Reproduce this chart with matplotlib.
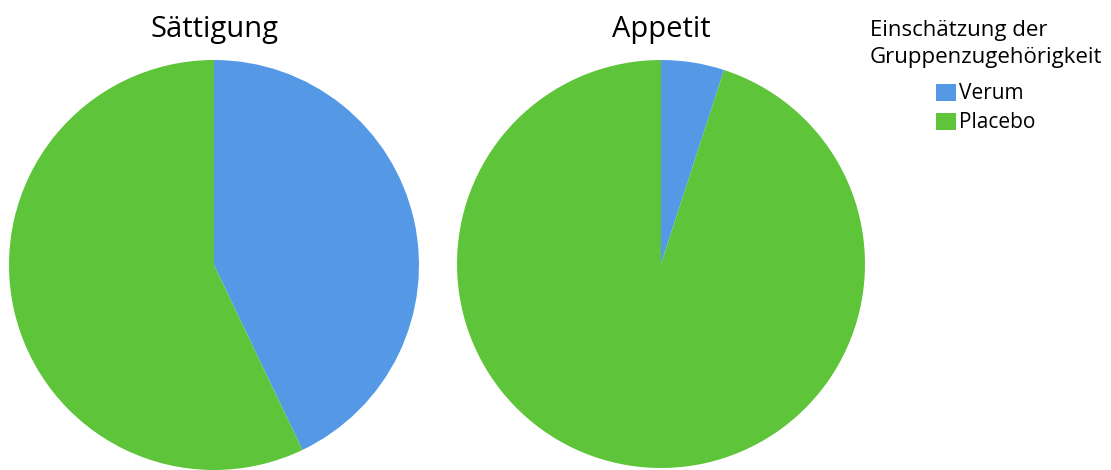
import matplotlib.pyplot as plt

# data (share of participants)
groups = ['Verum', 'Placebo']
titles = ['Sättigung', 'Appetit']
saettigung = [42.9, 57.1]
appetit = [5.0, 95.0]
colors = ['#5599e6', '#5ec43a']

plt.rcParams['font.family'] = ['Open Sans', 'DejaVu Sans']

W, H = 1111, 470
fig = plt.figure(figsize=(W / 100, H / 100), dpi=100)

# pie axes placed in pixel coordinates (left, top, size)
boxes = [(9, 60, 410), (457, 60, 408)]
for (left, top, size), title, values in zip(boxes, titles, [saettigung, appetit]):
    ax = fig.add_axes([left / W, (H - top - size) / H, size / W, size / H])
    wedges, _ = ax.pie(values, colors=colors, startangle=90, counterclock=False,
                       wedgeprops=dict(linewidth=0))
    ax.set_xlim(-1, 1)
    ax.set_ylim(-1, 1)
    ax.set_aspect('equal')
    ax.axis('off')
    fig.text((left + size / 2) / W, 1 - 30 / H, title, ha='center', va='center', fontsize=21)

leg = fig.legend(wedges, groups, title='Einschätzung der\nGruppenzugehörigkeit',
                 loc='upper center', bbox_to_anchor=(986 / W, 1 - 1 / H),
                 frameon=False, fontsize=15, title_fontsize=16,
                 handlelength=0.95, handleheight=0.9, handletextpad=0.15,
                 labelspacing=0.38)
leg.get_title().set_linespacing(1.4)
leg._legend_box.align = 'center'
leg._legend_box.sep = 11

fig.savefig('out.png', dpi=100)
